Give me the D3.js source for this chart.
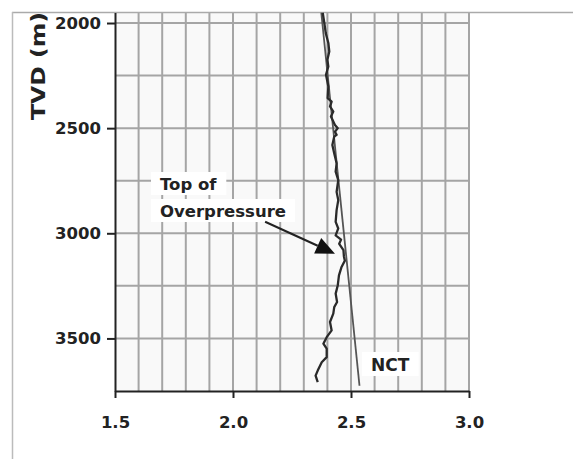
<!DOCTYPE html>
<html>
<head>
<meta charset="utf-8">
<script src="https://cdn.jsdelivr.net/npm/d3@7"></script>
<style>
  body { margin: 0; background: #fff; }
  svg { display: block; }
  .axis text { font-family: 'DejaVu Sans', sans-serif; font-weight: bold; font-size: 16.5px; fill: #222; }
  .axis path, .axis line { stroke: #222; stroke-width: 2; }
  .label { font-family: 'DejaVu Sans', sans-serif; font-weight: bold; fill: #222; }
</style>
</head>
<body>
<div id="chart"></div>
<script>
// density log
const depth = [1950, 2000, 2048, 2095, 2135, 2175, 2207, 2246, 2302, 2357, 2374, 2397, 2421, 2445, 2485, 2500, 2517, 2532, 2540, 2580, 2620, 2667, 2707, 2747, 2803, 2842, 2890, 2946, 2977, 3010, 3030, 3050, 3080, 3110, 3130, 3160, 3200, 3247, 3287, 3327, 3351, 3382, 3422, 3462, 3494, 3525, 3549, 3589, 3613, 3653, 3677, 3708]
const density = [2.380, 2.387, 2.393, 2.404, 2.408, 2.400, 2.404, 2.394, 2.404, 2.401, 2.418, 2.411, 2.425, 2.415, 2.432, 2.444, 2.432, 2.439, 2.429, 2.421, 2.429, 2.439, 2.435, 2.446, 2.439, 2.446, 2.439, 2.435, 2.446, 2.435, 2.458, 2.450, 2.468, 2.470, 2.474, 2.460, 2.449, 2.444, 2.435, 2.441, 2.429, 2.425, 2.411, 2.418, 2.397, 2.383, 2.397, 2.397, 2.376, 2.359, 2.350, 2.359]

// normal compaction trend
const nctDepth = [1950, 3725]
const nctDensity = [2.374, 2.536]

const xTicks = [1.5, 2.0, 2.5, 3.0]
const yTicks = [2000, 2500, 3000, 3500]
const xGrid = d3.range(16).map(i => 1.5 + i * 0.1)
const yGrid = [2000, 2250, 2500, 2750, 3000, 3250, 3500]

const width = 573
const height = 459

const x = d3.scaleLinear().domain([1.5, 3.0]).range([115, 469])
const y = d3.scaleLinear().domain([1950, 3750]).range([12.5, 391])

const svg = d3.select('#chart')
  .append('svg')
  .attr('width', width)
  .attr('height', height)

svg.append('defs').append('clipPath')
  .attr('id', 'plot-clip')
  .append('rect')
  .attr('x', x(1.5))
  .attr('y', y(1950))
  .attr('width', x(3.0) - x(1.5))
  .attr('height', y(3750) - y(1950))

// plot background
svg.append('rect')
  .attr('x', x(1.5))
  .attr('y', y(1950))
  .attr('width', x(3.0) - x(1.5))
  .attr('height', y(3750) - y(1950))
  .attr('fill', '#f9f9f9')

const grid = svg.append('g').attr('stroke', '#a5a5a5').attr('stroke-width', 2)

grid.selectAll('.vgrid')
  .data(xGrid.slice(1))
  .join('line')
  .attr('x1', d => x(d))
  .attr('x2', d => x(d))
  .attr('y1', y(1950))
  .attr('y2', y(3750))

grid.selectAll('.hgrid')
  .data(yGrid)
  .join('line')
  .attr('x1', x(1.5))
  .attr('x2', x(3.0))
  .attr('y1', d => y(d))
  .attr('y2', d => y(d))

// outer frame (top and left edges)
svg.append('line')
  .attr('x1', 12).attr('x2', width)
  .attr('y1', 12.5).attr('y2', 12.5)
  .attr('stroke', '#aaa').attr('stroke-width', 1.5)
svg.append('line')
  .attr('x1', 12.5).attr('x2', 12.5)
  .attr('y1', 12).attr('y2', height)
  .attr('stroke', '#bbb').attr('stroke-width', 1.5)

// axes
svg.append('g')
  .attr('class', 'axis')
  .attr('transform', `translate(0,${y(3750)})`)
  .call(d3.axisBottom(x).tickValues(xTicks).tickFormat(d3.format('.1f')).tickSize(7).tickSizeOuter(0).tickPadding(18))

svg.append('g')
  .attr('class', 'axis')
  .attr('transform', `translate(${x(1.5)},0)`)
  .call(d3.axisLeft(y).tickValues(yTicks).tickFormat(d3.format('d')).tickSize(8).tickSizeOuter(0).tickPadding(6))

svg.append('text')
  .attr('class', 'label')
  .attr('transform', `translate(45,66) rotate(-90) scale(1.24,1)`)
  .attr('text-anchor', 'middle')
  .attr('font-size', 19)
  .text('TVD (m)')

const plot = svg.append('g').attr('clip-path', 'url(#plot-clip)')

const nct = d3.line()
  .x((d, i) => x(nctDensity[i]))
  .y(d => y(d))

plot.append('path')
  .attr('d', nct(nctDepth))
  .attr('fill', 'none')
  .attr('stroke', '#555')
  .attr('stroke-width', 1.8)

const log = d3.line()
  .x((d, i) => x(density[i]))
  .y(d => y(d))

plot.append('path')
  .attr('d', log(depth))
  .attr('fill', 'none')
  .attr('stroke', '#2a2a2a')
  .attr('stroke-width', 2.3)
  .attr('stroke-linejoin', 'round')

// annotations
function boxedText (tx, ty, str, size) {
  const g = svg.append('g')
  const t = g.append('text')
    .attr('class', 'label')
    .attr('x', tx)
    .attr('y', ty)
    .attr('font-size', size)
    .text(str)
  const b = t.node().getBBox()
  g.insert('rect', 'text')
    .attr('x', b.x - 9)
    .attr('y', b.y - 3)
    .attr('width', b.width + 18)
    .attr('height', b.height + 4)
    .attr('fill', '#fff')
}

boxedText(160, 190, 'Top of', 16.5)
boxedText(160, 217, 'Overpressure', 16.5)
boxedText(371, 371, 'NCT', 17)

const arrowFrom = [2.136, 2945]
const arrowTo = [2.432, 3097]
const ax0 = x(arrowFrom[0]), ay0 = y(arrowFrom[1])
const ax1 = x(arrowTo[0]), ay1 = y(arrowTo[1])
const len = Math.hypot(ax1 - ax0, ay1 - ay0)
const ux = (ax1 - ax0) / len, uy = (ay1 - ay0) / len
const headL = 19, headW = 8.5

svg.append('line')
  .attr('x1', ax0).attr('y1', ay0)
  .attr('x2', ax1 - ux * headL).attr('y2', ay1 - uy * headL)
  .attr('stroke', '#222').attr('stroke-width', 2)

svg.append('polygon')
  .attr('points', [
    [ax1, ay1],
    [ax1 - ux * headL - uy * headW, ay1 - uy * headL + ux * headW],
    [ax1 - ux * headL + uy * headW, ay1 - uy * headL - ux * headW]
  ].map(p => p.join(',')).join(' '))
  .attr('fill', '#111')
</script>
</body>
</html>
